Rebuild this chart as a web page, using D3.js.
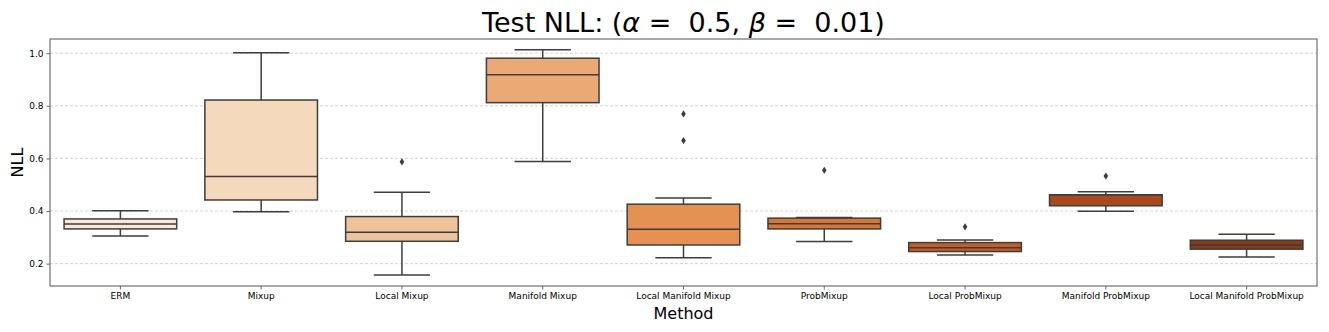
<!DOCTYPE html>
<html>
<head>
<meta charset="utf-8">
<script src="https://cdn.jsdelivr.net/npm/d3@7"></script>
<style>
  body { margin: 0; background: #fff; }
  text { font-family: "DejaVu Sans", sans-serif; fill: #000; }
</style>
</head>
<body>
<svg class="chart" width="1329" height="332"></svg>
<script>
// values
const methods = ["ERM", "Mixup", "Local Mixup", "Manifold Mixup", "Local Manifold Mixup",
  "ProbMixup", "Local ProbMixup", "Manifold ProbMixup", "Local Manifold ProbMixup"];
const whiskerLow  = [0.305, 0.397, 0.157, 0.588, 0.222, 0.284, 0.233, 0.399, 0.225];
const q1          = [0.332, 0.442, 0.285, 0.812, 0.271, 0.332, 0.246, 0.420, 0.255];
const medians     = [0.351, 0.531, 0.319, 0.918, 0.331, 0.352, 0.260, 0.462, 0.271];
const q3          = [0.370, 0.822, 0.379, 0.981, 0.426, 0.373, 0.280, 0.462, 0.289];
const whiskerHigh = [0.401, 1.002, 0.471, 1.013, 0.450, 0.375, 0.290, 0.473, 0.312];
const outliers    = [[], [], [0.587], [], [0.769, 0.668], [0.555], [0.340], [0.533], []];
const yTicks = [0.2, 0.4, 0.6, 0.8, 1.0];
const palette = ["#f9e9d9", "#f4d9bd", "#efc39a", "#eaa975", "#e59154",
  "#d87636", "#c75d23", "#ac491a", "#8b3a17"];

const margin = { top: 39, right: 12, bottom: 46, left: 50 };
const width = 1329, height = 332;
const svg = d3.select(".chart");

const x = d3.scaleBand().domain(methods).range([margin.left, width - margin.right]).padding(0);
const y = d3.scaleLinear().domain([0.115, 1.054]).range([height - margin.bottom, margin.top]);
const lineColor = "#3d3d3d";

// grid
svg.append("g").selectAll("line").data(yTicks).join("line")
  .attr("x1", margin.left).attr("x2", width - margin.right)
  .attr("y1", d => y(d)).attr("y2", d => y(d))
  .attr("stroke", "#c8c8c8").attr("stroke-width", 0.8).attr("stroke-dasharray", "3,2");

const boxes = methods.map((m, i) => ({
  m, i, lo: whiskerLow[i], q1: q1[i], med: medians[i], q3: q3[i], hi: whiskerHigh[i], out: outliers[i]
}));

const bw = x.bandwidth() * 0.8;
const g = svg.append("g").selectAll("g").data(boxes).join("g")
  .attr("transform", d => `translate(${x(d.m) + x.bandwidth() / 2},0)`);

// whiskers
g.append("line").attr("y1", d => y(d.hi)).attr("y2", d => y(d.q3))
  .attr("stroke", lineColor).attr("stroke-width", 1.5);
g.append("line").attr("y1", d => y(d.lo)).attr("y2", d => y(d.q1))
  .attr("stroke", lineColor).attr("stroke-width", 1.5);
// caps
g.append("line").attr("x1", -bw / 4).attr("x2", bw / 4)
  .attr("y1", d => y(d.hi)).attr("y2", d => y(d.hi))
  .attr("stroke", lineColor).attr("stroke-width", 1.5);
g.append("line").attr("x1", -bw / 4).attr("x2", bw / 4)
  .attr("y1", d => y(d.lo)).attr("y2", d => y(d.lo))
  .attr("stroke", lineColor).attr("stroke-width", 1.5);
// box
g.append("rect").attr("x", -bw / 2).attr("width", bw)
  .attr("y", d => y(d.q3)).attr("height", d => y(d.q1) - y(d.q3))
  .attr("fill", d => palette[d.i]).attr("stroke", lineColor).attr("stroke-width", 1.5);
// median
g.append("line").attr("x1", -bw / 2).attr("x2", bw / 2)
  .attr("y1", d => y(d.med)).attr("y2", d => y(d.med))
  .attr("stroke", lineColor).attr("stroke-width", 1.5);
// outliers (thin diamonds)
g.selectAll("path.out").data(d => d.out).join("path").attr("class", "out")
  .attr("d", v => `M0,${y(v) - 3.6}L2.3,${y(v)}L0,${y(v) + 3.6}L-2.3,${y(v)}Z`)
  .attr("fill", lineColor);

// axes
const xAxis = svg.append("g").attr("transform", `translate(0,${height - margin.bottom})`)
  .call(d3.axisBottom(x).tickSizeOuter(0).tickSize(3.5).tickPadding(3));
const yAxis = svg.append("g").attr("transform", `translate(${margin.left},0)`)
  .call(d3.axisLeft(y).tickValues(yTicks).tickFormat(d3.format(".1f")).tickSizeOuter(0).tickSize(3.5).tickPadding(3));
[xAxis, yAxis].forEach(a => {
  a.select(".domain").remove();
  a.selectAll("line").attr("stroke", "#444").attr("stroke-width", 0.8);
  a.selectAll("text").attr("font-size", 9).attr("font-family", "DejaVu Sans").attr("fill", "#000");
});

// frame
svg.append("rect").attr("x", margin.left).attr("y", margin.top)
  .attr("width", width - margin.left - margin.right).attr("height", height - margin.top - margin.bottom)
  .attr("fill", "none").attr("stroke", "#555").attr("stroke-width", 1);

// titles
const cx = margin.left + (width - margin.left - margin.right) / 2;
const title = svg.append("text").attr("x", cx).attr("y", 32).attr("text-anchor", "middle")
  .attr("font-size", 27).style("white-space", "pre");
title.append("tspan").text("Test NLL: (");
title.append("tspan").attr("font-style", "italic").text("α");
title.append("tspan").text(" =  0.5, ");
title.append("tspan").attr("font-style", "italic").text("β");
title.append("tspan").text(" =  0.01)");

svg.append("text").attr("x", cx).attr("y", 319).attr("text-anchor", "middle")
  .attr("font-size", 16).text("Method");
svg.append("text").attr("transform", `translate(23,${(margin.top + height - margin.bottom) / 2}) rotate(-90)`)
  .attr("text-anchor", "middle").attr("font-size", 16).text("NLL");
</script>
</body>
</html>
